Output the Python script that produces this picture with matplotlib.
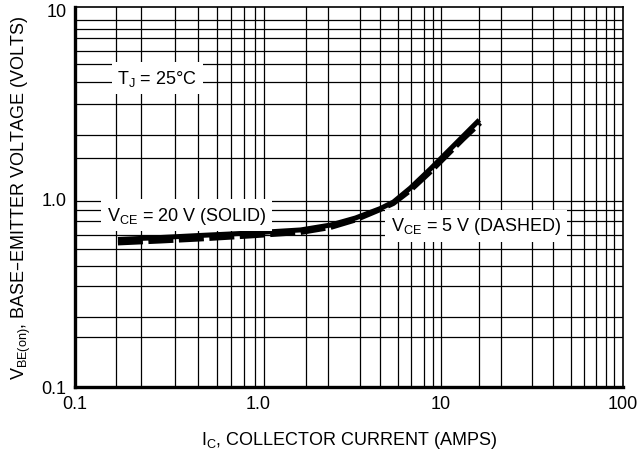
import matplotlib
matplotlib.use("Agg")
import matplotlib.pyplot as plt
from matplotlib import font_manager as fm

# ---- data ----
ic_solid = [0.1718, 0.2951, 0.4881, 0.9157, 1.718, 2.506, 3.432, 4.700, 5.536, 6.857, 8.818, 10.92, 13.36, 16.34]
vbe_solid = [0.606, 0.621, 0.637, 0.656, 0.681, 0.723, 0.788, 0.885, 0.958, 1.137, 1.434, 1.765, 2.146, 2.609]
ic_dashed = [0.1718, 0.2951, 0.4881, 0.9157, 1.718, 2.506, 3.432, 4.700, 5.536, 6.857, 8.818, 10.92, 13.36, 16.54]
vbe_dashed = [0.581, 0.595, 0.610, 0.633, 0.660, 0.702, 0.769, 0.874, 0.941, 1.103, 1.382, 1.701, 2.068, 2.515]

x_ticks = [0.1, 1.0, 10, 100]
x_tick_labels = ["0.1", "1.0", "10", "100"]
y_ticks = [0.1, 1.0, 10]
y_tick_labels = ["0.1", "1.0", "10"]
x_grid = [0.1675, 0.2295, 0.352, 0.470, 0.597, 0.712, 0.838, 0.964, 1.079, 1.83, 2.44, 3.61, 4.70,
          5.89, 6.95, 8.18, 9.16, 10.1, 16.3, 21.5, 31.8, 41.4, 52.0, 61.2, 71.2, 80.7, 89.3]
y_grid = [0.184, 0.236, 0.343, 0.440, 0.540, 0.643, 0.762, 0.869, 0.973, 1.63, 2.17, 3.17, 4.13,
          5.17, 6.04, 7.08, 7.93, 8.88]

# ---- fonts ----
names = {f.name for f in fm.fontManager.ttflist}
fam = [n for n in ["Liberation Sans Narrow", "Liberation Sans", "DejaVu Sans"] if n in names]
plt.rcParams["font.family"] = fam
plt.rcParams["mathtext.default"] = "regular"

fig = plt.figure(figsize=(6.39, 4.60), dpi=100)
ax = fig.add_axes([75 / 639, 1 - 388 / 460, 548 / 639, 380 / 460])
ax.set_xscale("log")
ax.set_yscale("log")
ax.set_xlim(0.1, 100)
ax.set_ylim(0.1, 10.37)

for g in x_grid:
    ax.axvline(g, color="black", lw=0.9, zorder=1)
for g in y_grid:
    ax.axhline(g, color="black", lw=0.9, zorder=1)

ax.plot(ic_solid, vbe_solid, color="black", lw=3.6, solid_capstyle="butt", zorder=3)
ax.plot(ic_dashed, vbe_dashed, color="black", lw=3.6, dashes=(5, 1.1), dash_capstyle="butt", zorder=3)

ax.set_xticks(x_ticks)
ax.set_xticklabels(x_tick_labels)
ax.set_yticks(y_ticks)
ax.set_yticklabels(y_tick_labels)
ax.minorticks_off()
ax.tick_params(length=0, labelsize=13, pad=6)

for side in ["left", "bottom"]:
    ax.spines[side].set_linewidth(2.4)
for side in ["top", "right"]:
    ax.spines[side].set_linewidth(1.2)

ax.set_xlabel("I$_C$, COLLECTOR CURRENT (AMPS)", fontsize=13, labelpad=12)
ax.set_ylabel("V$_{BE(on)}$, BASE–EMITTER VOLTAGE (VOLTS)", fontsize=13, labelpad=6)

box = dict(facecolor="white", edgecolor="none", pad=4)
ax.text(0.150, 0.813, "T$_J$ = 25°C", transform=ax.transAxes, fontsize=13,
        ha="center", va="center", bbox=box, zorder=4)
ax.text(0.204, 0.4526, "V$_{CE}$ = 20 V (SOLID)", transform=ax.transAxes, fontsize=13,
        ha="center", va="center", bbox=box, zorder=4)
ax.text(0.732, 0.4237, "V$_{CE}$ = 5 V (DASHED)", transform=ax.transAxes, fontsize=13,
        ha="center", va="center", bbox=box, zorder=4)

fig.savefig("out.png", dpi=100)
